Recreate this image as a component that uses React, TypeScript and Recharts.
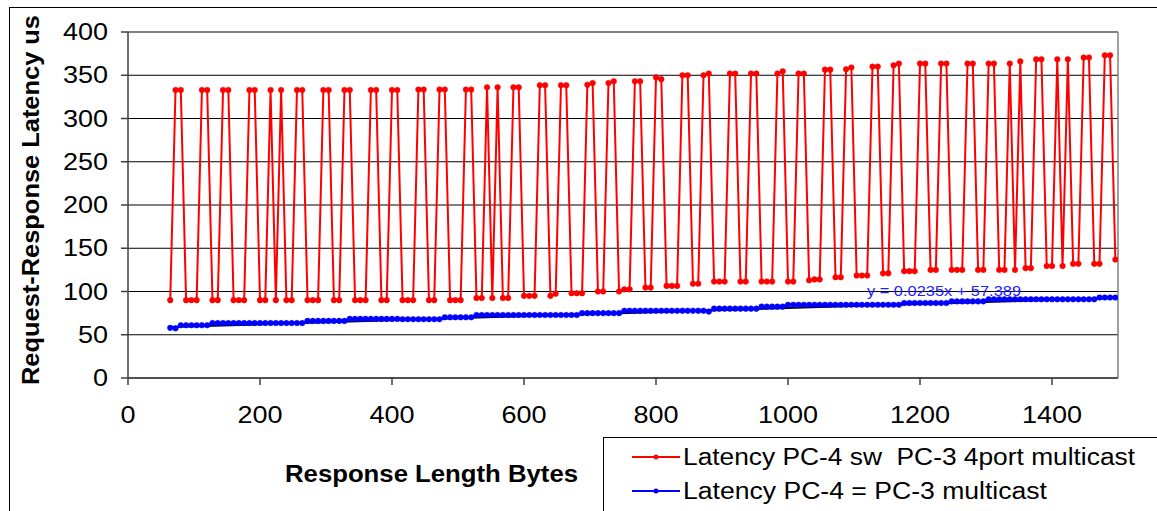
import { LineChart, Line, XAxis, YAxis, CartesianGrid, ReferenceLine } from 'recharts';

// response length in bytes (x)
const responseBytes = [
  64, 72, 80, 88, 96, 104, 112, 120, 128, 136,
  144, 152, 160, 168, 176, 184, 192, 200, 208, 216,
  224, 232, 240, 248, 256, 264, 272, 280, 288, 296,
  304, 312, 320, 328, 336, 344, 352, 360, 368, 376,
  384, 392, 400, 408, 416, 424, 432, 440, 448, 456,
  464, 472, 480, 488, 496, 504, 512, 520, 528, 536,
  544, 552, 560, 568, 576, 584, 592, 600, 608, 616,
  624, 632, 640, 648, 656, 664, 672, 680, 688, 696,
  704, 712, 720, 728, 736, 744, 752, 760, 768, 776,
  784, 792, 800, 808, 816, 824, 832, 840, 848, 856,
  864, 872, 880, 888, 896, 904, 912, 920, 928, 936,
  944, 952, 960, 968, 976, 984, 992, 1000, 1008, 1016,
  1024, 1032, 1040, 1048, 1056, 1064, 1072, 1080, 1088, 1096,
  1104, 1112, 1120, 1128, 1136, 1144, 1152, 1160, 1168, 1176,
  1184, 1192, 1200, 1208, 1216, 1224, 1232, 1240, 1248, 1256,
  1264, 1272, 1280, 1288, 1296, 1304, 1312, 1320, 1328, 1336,
  1344, 1352, 1360, 1368, 1376, 1384, 1392, 1400, 1408, 1416,
  1424, 1432, 1440, 1448, 1456, 1464, 1472, 1480, 1488, 1496,
];

// Latency PC-4 sw  PC-3 4port multicast (us)
const switchLatency = [
  90, 333, 333, 90, 90, 90, 333, 333, 90, 90,
  333, 333, 90, 90, 90, 333, 333, 90, 90, 333,
  90, 333, 90, 90, 333, 333, 90, 90, 90, 333,
  333, 90, 90, 333, 333, 90, 90, 90, 333, 333,
  90, 90, 333, 333, 90, 90, 90, 333.5, 333.5, 90,
  90, 333.5, 333.5, 90, 90, 90, 333.5, 333.5, 92.5, 92.5,
  336, 92.5, 336, 92.5, 92.5, 336, 336, 95, 95, 95,
  338.5, 338.5, 95, 97.5, 338.5, 338.5, 98, 98, 98, 339,
  341, 100, 100, 341, 343, 100, 102.5, 102.5, 343, 343,
  104.5, 104.5, 347.5, 345.5, 106.5, 106.5, 106.5, 350, 350, 109,
  109, 350, 352, 111.5, 111.5, 111.5, 352, 352, 111.5, 111.5,
  352, 352, 111.5, 111.5, 111.5, 352, 354.5, 111.5, 111.5, 352,
  352, 113, 114, 114, 356.5, 356.5, 116.5, 116.5, 357, 359,
  118.5, 118.5, 118.5, 360, 360, 121, 121, 361.5, 363.5, 123.5,
  123.5, 123.5, 363.5, 363.5, 125, 125, 363.5, 363.5, 125, 125,
  125, 363.5, 363.5, 125, 125, 363.5, 363.5, 125, 125, 363.5,
  125, 366, 127, 127, 368.5, 368.5, 129.5, 129.5, 368.5, 129.5,
  368.5, 132, 132, 370.5, 370.5, 132, 132, 373, 373, 137,
];

// Latency PC-4 = PC-3 multicast (us)
const directLatency = [
  58, 57.5, 61, 61, 61, 61, 61, 61, 63.5, 63.5,
  63.5, 63.5, 63.5, 63.5, 63.5, 63.5, 63.5, 63.5, 63.5, 63.5,
  63.5, 63.5, 63.5, 63.5, 63.5, 63.5, 66, 66, 66, 66,
  66, 66, 66, 66, 68.3, 68.3, 68.3, 68.3, 68.3, 68.3,
  68.3, 68.3, 68.3, 68.3, 68, 68, 68, 68, 68, 68,
  68, 68, 70.2, 70.2, 70.2, 70.2, 70.2, 70.2, 72.8, 72.8,
  72.8, 72.8, 72.8, 72.8, 72.8, 72.8, 72.8, 72.8, 72.8, 72.8,
  72.8, 72.8, 72.8, 72.8, 72.8, 72.8, 72.8, 72.8, 75, 75,
  75, 75, 75, 75, 75, 75, 77.8, 77.8, 77.8, 77.8,
  77.8, 77.8, 77.8, 77.8, 77.8, 77.8, 77.8, 77.8, 77.8, 77.8,
  77.8, 77.8, 76.8, 80.2, 80.2, 80.2, 80.2, 80.2, 80.2, 80.2,
  80.2, 80.2, 82.5, 82.5, 82.5, 82.5, 82.5, 84.6, 84.6, 84.6,
  84.6, 84.6, 84.6, 84.6, 84.6, 84.6, 84.6, 84.6, 84.6, 84.6,
  84.6, 84.6, 84.6, 84.6, 84.6, 84.6, 84.6, 84.6, 84.6, 86.7,
  86.7, 86.7, 86.7, 86.7, 86.7, 86.7, 86.7, 86.7, 88.6, 88.6,
  88.6, 88.6, 88.6, 88.6, 88.6, 91, 91, 91, 91, 91,
  91, 91, 91, 91, 91, 91, 91, 91, 91, 91,
  91, 91, 91, 91, 91, 91, 93, 93, 93, 93,
];

const xTicks = [0, 200, 400, 600, 800, 1000, 1200, 1400];
const yTicks = [0, 50, 100, 150, 200, 250, 300, 350, 400];

// linear trendline shown on the chart
const trendSlope = 0.0235;
const trendIntercept = 57.389;
const trendLabel = 'y = 0.0235x + 57.389';

const chartData = responseBytes.map((x, i) => ({
  x,
  sw: switchLatency[i],
  direct: directLatency[i],
}));

const trendData = [responseBytes[0], responseBytes[responseBytes.length - 1]].map(x => ({
  x,
  trend: trendSlope * x + trendIntercept,
}));

const FONT = '"Liberation Sans", Arial, sans-serif';
const STRETCH = 1.15;

const XTick = ({ x, y, payload }: any) => (
  <text
    transform={`translate(${x},${y + 36}) scale(${STRETCH},1)`}
    textAnchor="middle"
    fontSize={23.5}
    fontFamily={FONT}
    fill="#000"
  >
    {payload.value}
  </text>
);

const YTick = ({ x, y, payload }: any) => (
  <text
    transform={`translate(${x},${y + 8}) scale(${STRETCH},1)`}
    textAnchor="end"
    fontSize={23.5}
    fontFamily={FONT}
    fill="#000"
  >
    {payload.value}
  </text>
);

export default function App() {
  return (
    <div style={{ position: 'relative', width: 1157, height: 511, overflow: 'hidden', background: '#fff' }}>
      <style>{'body{margin:0}'}</style>
      <LineChart
        width={1157}
        height={511}
        data={chartData}
        margin={{ top: 32, right: 39, bottom: 83, left: 48 }}
      >
        <CartesianGrid horizontal vertical={false} stroke="#000" strokeWidth={1} />
        <XAxis
          type="number"
          dataKey="x"
          domain={[0, 1500]}
          ticks={xTicks}
          allowDataOverflow
          height={50}
          tickSize={7}
          tickMargin={2}
          stroke="#404040"
          strokeWidth={1.5}
          tick={<XTick />}
        />
        <YAxis
          domain={[0, 400]}
          ticks={yTicks}
          width={80}
          tickSize={7}
          tickMargin={13}
          stroke="#404040"
          strokeWidth={1.5}
          tick={<YTick />}
        />
        <ReferenceLine y={400} stroke="#808080" strokeWidth={1.5} />
        <ReferenceLine x={1500} stroke="#808080" strokeWidth={1.5} />
        <Line
          dataKey="sw"
          stroke="#FF0000"
          strokeWidth={2}
          dot={{ r: 2.8, fill: '#FF0000', stroke: '#FF0000', strokeWidth: 0.5 }}
          isAnimationActive={false}
        />
        <Line
          dataKey="direct"
          stroke="#0000FF"
          strokeWidth={2}
          dot={{ r: 2.8, fill: '#0000FF', stroke: '#0000FF', strokeWidth: 0.5 }}
          isAnimationActive={false}
        />
        <Line
          data={trendData}
          dataKey="trend"
          stroke="#000"
          strokeWidth={2}
          dot={false}
          isAnimationActive={false}
        />
      </LineChart>

      <svg
        width={1157}
        height={511}
        style={{ position: 'absolute', left: 0, top: 0, pointerEvents: 'none' }}
        fontFamily={FONT}
      >
        <rect x={9.5} y={7.5} width={1160} height={600} fill="none" stroke="#000" />
        <text
          transform="translate(39,200) rotate(-90)"
          textAnchor="middle"
          fontSize={23}
          fontWeight="bold"
          textLength={370}
          lengthAdjust="spacingAndGlyphs"
        >
          Request-Response Latency us
        </text>
        <text
          x={285}
          y={482}
          fontSize={23}
          fontWeight="bold"
          textLength={293}
          lengthAdjust="spacingAndGlyphs"
        >
          Response Length Bytes
        </text>
        <text
          x={867}
          y={296}
          fontSize={15}
          fill="#2222FF"
          textLength={154}
          lengthAdjust="spacingAndGlyphs"
        >
          {trendLabel}
        </text>

        <rect x={603.5} y={437.5} width={600} height={100} fill="#fff" stroke="#000" />
        <line x1={632} x2={680} y1={457} y2={457} stroke="#FF0000" strokeWidth={2} />
        <circle cx={656} cy={457} r={2.5} fill="#FF0000" />
        <text
          x={683}
          y={465}
          fontSize={23}
          textLength={452}
          lengthAdjust="spacingAndGlyphs"
          style={{ whiteSpace: 'pre' }}
        >
          {'Latency PC-4 sw  PC-3 4port multicast'}
        </text>
        <line x1={632} x2={680} y1={491} y2={491} stroke="#0000FF" strokeWidth={2} />
        <circle cx={656} cy={491} r={2.5} fill="#0000FF" />
        <text
          x={683}
          y={499}
          fontSize={23}
          textLength={364}
          lengthAdjust="spacingAndGlyphs"
        >
          Latency PC-4 = PC-3 multicast
        </text>
      </svg>
    </div>
  );
}
